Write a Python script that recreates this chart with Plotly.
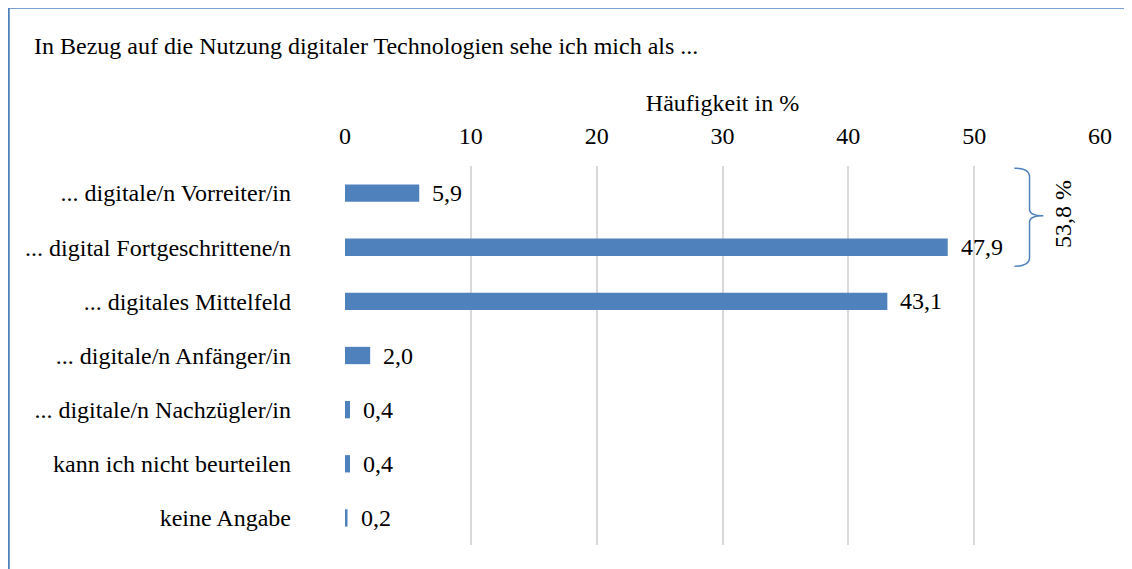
import plotly.graph_objects as go

categories = [
    '... digitale/n Vorreiter/in',
    '... digital Fortgeschrittene/n',
    '... digitales Mittelfeld',
    '... digitale/n Anfänger/in',
    '... digitale/n Nachzügler/in',
    'kann ich nicht beurteilen',
    'keine Angabe',
]
values = [5.9, 47.9, 43.1, 2.0, 0.4, 0.4, 0.2]
positions = list(range(len(categories)))
x_ticks = [0, 10, 20, 30, 40, 50, 60]

title_text = 'In Bezug auf die Nutzung digitaler Technologien sehe ich mich als ...'
axis_title = 'Häufigkeit in %'
brace_label = '53,8 %'

BLUE = '#4F81BD'
FONT = 'Liberation Serif'
FS = 24


def txt(size=FS):
    return dict(family=FONT, size=size, color='black')


fig = go.Figure(go.Bar(
    x=values,
    y=positions,
    orientation='h',
    width=0.32,
    marker=dict(color=BLUE, line=dict(width=0)),
    hoverinfo='skip',
))

# value labels
for v, p in zip(values, positions):
    fig.add_annotation(x=v, y=p, text=f'{v:.1f}'.replace('.', ','),
                       xanchor='left', yanchor='middle', xshift=11,
                       showarrow=False, font=txt())

# brace for the top two groups
fig.add_shape(type='path', xref='x', yref='y',
              path='M 53.2,-0.46 Q 54.4,-0.46 54.4,-0.3 L 54.4,0.3 '
                   'Q 54.4,0.42 55.5,0.42 Q 54.4,0.42 54.4,0.54 '
                   'L 54.4,1.19 Q 54.4,1.35 53.2,1.35',
              line=dict(color=BLUE, width=1.5))
fig.add_annotation(x=57.0, y=0.38, text=brace_label, textangle=-90,
                   showarrow=False, font=txt())

# outer frame
fig.add_shape(type='rect', xref='paper', yref='paper',
              x0=(0.5 - 337) / 755, x1=2, y0=-1, y1=(537 + 0.5) / 379,
              line=dict(color=BLUE, width=2.5), layer='below')

fig.update_xaxes(side='top', range=[0, 60], tickvals=x_ticks,
                 showgrid=True, gridcolor='#D9D9D9', gridwidth=1.5,
                 zeroline=False, showline=False, ticks='',
                 ticklabelstandoff=16,
                 title=dict(text=axis_title, standoff=4, font=txt()),
                 tickfont=txt())
fig.update_yaxes(range=[6.5, -0.5], tickvals=positions, ticktext=categories,
                 showgrid=False, zeroline=False, showline=False, ticks='',
                 ticklabelstandoff=53,
                 tickfont=txt())

fig.update_layout(
    width=1124, height=561,
    margin=dict(l=337, r=32, t=158, b=24),
    plot_bgcolor='white', paper_bgcolor='white',
    font=txt(),
    showlegend=False,
    title=dict(text=title_text, xref='container', yref='container',
               x=26 / 1124, xanchor='left', y=1 - 38 / 561, yanchor='middle',
               font=txt()),
)

fig.write_html('out.html')
